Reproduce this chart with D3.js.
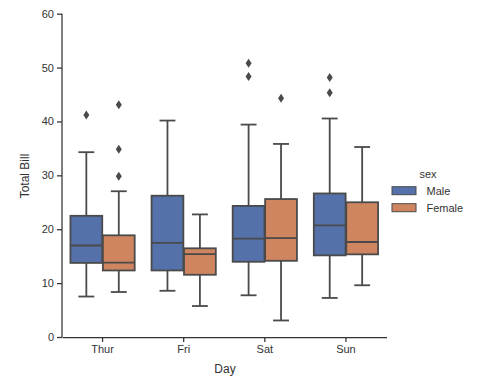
<!DOCTYPE html>
<html><head><meta charset="utf-8">
<script src="https://cdn.jsdelivr.net/npm/d3@7"></script>
<style>body{margin:0;background:#fff;} svg{display:block;font-family:"Liberation Sans",Arial,sans-serif;}</style>
</head><body>
<svg id="chart" width="492" height="381"></svg>
<script>
const days = ["Thur","Fri","Sat","Sun"];
const sexes = ["Male","Female"];
const colors = ["#5571a9","#cf8660"];
const yTicks = [0,10,20,30,40,50,60];
// per day, per sex: [whiskerLow, q1, median, q3, whiskerHigh]
const maleStats = [
  [7.51, 13.75, 16.98, 22.49, 34.30],
  [8.58, 12.35, 17.48, 26.22, 40.17],
  [7.74, 13.96, 18.24, 24.33, 39.42],
  [7.25, 15.15, 20.73, 26.64, 40.55]
];
const femaleStats = [
  [8.35, 12.35, 13.79, 18.87, 27.05],
  [5.75, 11.55, 15.38, 16.46, 22.75],
  [3.07, 14.14, 18.36, 25.60, 35.83],
  [9.60, 15.34, 17.63, 25.00, 35.26]
];
const maleOutliers = [[41.19],[],[50.81,48.33],[48.17,45.35]];
const femaleOutliers = [[43.11,34.83,29.85],[],[44.30],[]];

const svg = d3.select("#chart");
const x = d3.scaleBand().domain(days).range([62,386.5]).paddingInner(0).paddingOuter(0);
const y = d3.scaleLinear().domain([0,60]).range([337,13.7]);
const inner = d3.scaleBand().domain(sexes).range([0, x.bandwidth()*0.8]);
const axisColor = "#333";
const textColor = "#333";

// axes
const yAxis = svg.append("g").attr("transform","translate(62,0)")
  .call(d3.axisLeft(y).tickValues(yTicks).tickSize(5).tickPadding(3));
const xAxis = svg.append("g").attr("transform","translate(0,337)")
  .call(d3.axisBottom(x).tickSize(5).tickPadding(3).tickSizeOuter(0));
[yAxis,xAxis].forEach(g=>{
  g.select(".domain").attr("stroke",axisColor).attr("stroke-width",1.25);
  g.selectAll(".tick line").attr("stroke",axisColor).attr("stroke-width",1.25);
  g.selectAll(".tick text").attr("fill",textColor).attr("font-size",11)
   .attr("font-family","Liberation Sans, Arial, sans-serif");
});
yAxis.select(".domain").attr("d","M0,337V13.7");

svg.append("text").attr("x",225).attr("y",373).attr("text-anchor","middle")
  .attr("font-size",12).attr("fill",textColor).text("Day");
svg.append("text").attr("transform","translate(29,176) rotate(-90)").attr("text-anchor","middle")
  .attr("font-size",12).attr("fill",textColor).text("Total Bill");

const lineColor = "#4a4a4a";
const lw = 1.8;
const groups = [maleStats, femaleStats];
const outs = [maleOutliers, femaleOutliers];
const boxW = inner.bandwidth()*0.98;
days.forEach((d,i)=>{
  sexes.forEach((s,j)=>{
    const st = groups[j][i];
    const cx = x(d) + x.bandwidth()*0.1 + inner(s) + inner.bandwidth()/2;
    const g = svg.append("g");
    // whiskers
    g.append("line").attr("x1",cx).attr("x2",cx).attr("y1",y(st[0])).attr("y2",y(st[1]))
      .attr("stroke",lineColor).attr("stroke-width",lw);
    g.append("line").attr("x1",cx).attr("x2",cx).attr("y1",y(st[3])).attr("y2",y(st[4]))
      .attr("stroke",lineColor).attr("stroke-width",lw);
    [st[0],st[4]].forEach(v=>{
      g.append("line").attr("x1",cx-boxW/4).attr("x2",cx+boxW/4).attr("y1",y(v)).attr("y2",y(v))
        .attr("stroke",lineColor).attr("stroke-width",lw);
    });
    g.append("rect").attr("x",cx-boxW/2).attr("width",boxW)
      .attr("y",y(st[3])).attr("height",y(st[1])-y(st[3]))
      .attr("fill",colors[j]).attr("stroke",lineColor).attr("stroke-width",lw);
    g.append("line").attr("x1",cx-boxW/2).attr("x2",cx+boxW/2).attr("y1",y(st[2])).attr("y2",y(st[2]))
      .attr("stroke",lineColor).attr("stroke-width",lw);
    outs[j][i].forEach(v=>{
      const py = y(v);
      g.append("path").attr("d",`M${cx},${py-4.5}L${cx+3},${py}L${cx},${py+4.5}L${cx-3},${py}Z`)
        .attr("fill",lineColor);
    });
  });
});

// legend
const lg = svg.append("g");
lg.append("text").attr("x",428).attr("y",178).attr("text-anchor","middle")
  .attr("font-size",11).attr("fill",textColor).text("sex");
sexes.forEach((s,j)=>{
  const yy = 186.7 + j*17;
  lg.append("rect").attr("x",392).attr("y",yy).attr("width",24).attr("height",8)
    .attr("fill",colors[j]).attr("stroke",lineColor).attr("stroke-width",1);
  lg.append("text").attr("x",426.5).attr("y",yy+8).attr("font-size",11)
    .attr("fill",textColor).text(s);
});
</script>
</body></html>
